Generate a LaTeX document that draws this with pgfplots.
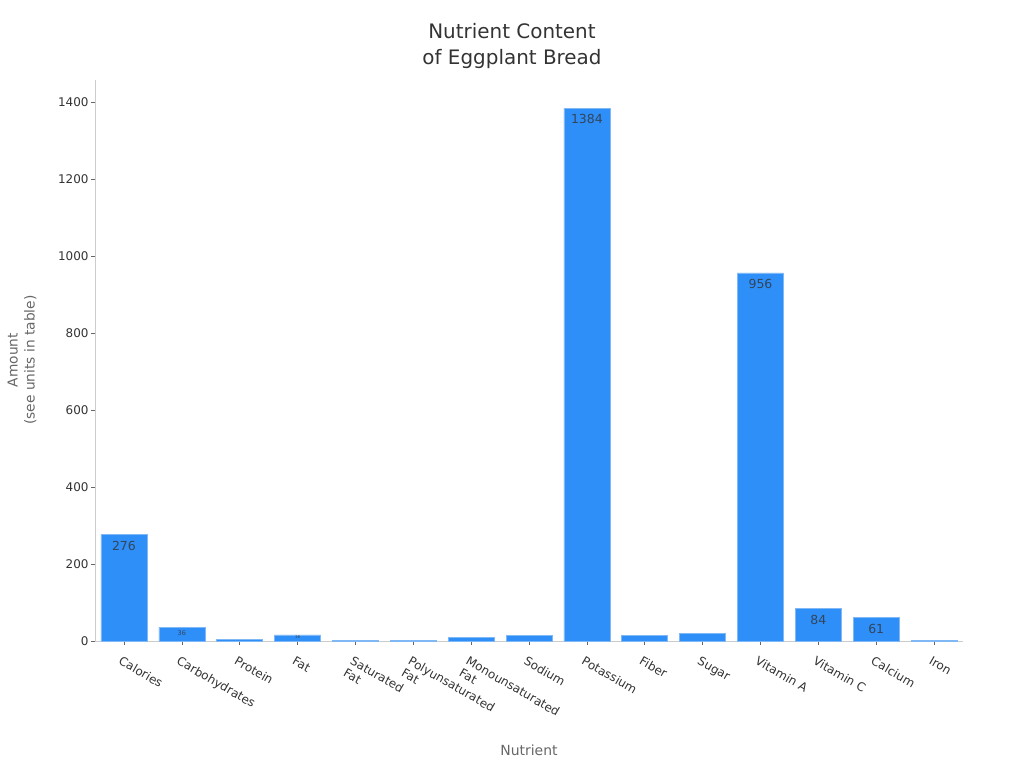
\documentclass[border=0pt]{standalone}
\usepackage{pgfplots}
\pgfplotsset{compat=1.18}
\usepackage{fontspec}
\setmainfont{DejaVu Sans}
\definecolor{barblue}{HTML}{2E8FF8}
\definecolor{baredge}{HTML}{7FB8F5}
\definecolor{txt}{HTML}{333333}
\definecolor{lab}{HTML}{666666}
\definecolor{axgray}{HTML}{CCCCCC}
\begin{document}
\begin{tikzpicture}[x=1bp,y=1bp]
\path[use as bounding box] (0,0) rectangle (1024,768);
\begin{axis}[
  at={(95bp,127bp)}, anchor=south west,
  scale only axis, width=868bp, height=561bp,
  xmin=-0.5, xmax=14.5, ymin=0, ymax=1457,
  axis lines*=left,
  axis line style={axgray},
  tick style={color=black!60, line width=0.6pt},
  tick align=outside, major tick length=4bp,
  xtick={0,...,14},
  xticklabels={Calories,Carbohydrates,Protein,Fat,{Saturated\\Fat},{Polyunsaturated\\Fat},{Monounsaturated\\Fat},Sodium,Potassium,Fiber,Sugar,Vitamin A,Vitamin C,Calcium,Iron},
  xticklabel style={rotate=-30, anchor=north west, align=left, font=\fontsize{12}{13.5}\selectfont, text=txt, inner sep=1bp, xshift=3bp, yshift=-9bp},
  ytick={0,200,...,1400},
  yticklabel style={font=\fontsize{12}{13}\selectfont, text=txt, xshift=1bp},
  /pgf/number format/assume math mode=true,
  /pgf/number format/1000 sep={},
  clip=false,
]
\addplot[ybar, bar width=46bp, fill=barblue, draw=baredge, line width=0.6pt] coordinates {
(0,276) (1,36) (2,5) (3,16) (4,1.5) (5,1.5) (6,9) (7,15) (8,1384) (9,15) (10,19) (11,956) (12,84) (13,61) (14,2)
};
\addplot[only marks, mark=none, nodes near coords, point meta=explicit symbolic,
  nodes near coords style={anchor=north, font=\fontsize{12.5}{13}\selectfont, text=txt!80!barblue, yshift=-3bp}]
coordinates {(0,276)[276] (8,1384)[1384] (11,956)[956] (12,84)[84] (13,61)[61]};
\addplot[only marks, mark=none, nodes near coords, point meta=explicit symbolic,
  nodes near coords style={anchor=north, font=\fontsize{6.5}{7}\selectfont, text=txt!80!barblue, yshift=-2bp, inner sep=1bp}]
coordinates {(1,36)[36]};
\addplot[only marks, mark=none, nodes near coords, point meta=explicit symbolic,
  nodes near coords style={anchor=north, font=\fontsize{4}{4}\selectfont, text=txt!80!barblue, yshift=-0.5bp, inner sep=0.5bp}]
coordinates {(3,16)[16]};
\end{axis}
\node[font=\fontsize{20}{26}\selectfont, text=txt, align=center] at (512,722) {Nutrient Content\\of Eggplant Bread};
\node[font=\fontsize{13.8}{17}\selectfont, text=lab, align=center, rotate=90] at (22,408) {Amount\\(see units in table)};
\node[font=\fontsize{14}{17}\selectfont, text=lab] at (529,18) {Nutrient};
\end{tikzpicture}
\end{document}
